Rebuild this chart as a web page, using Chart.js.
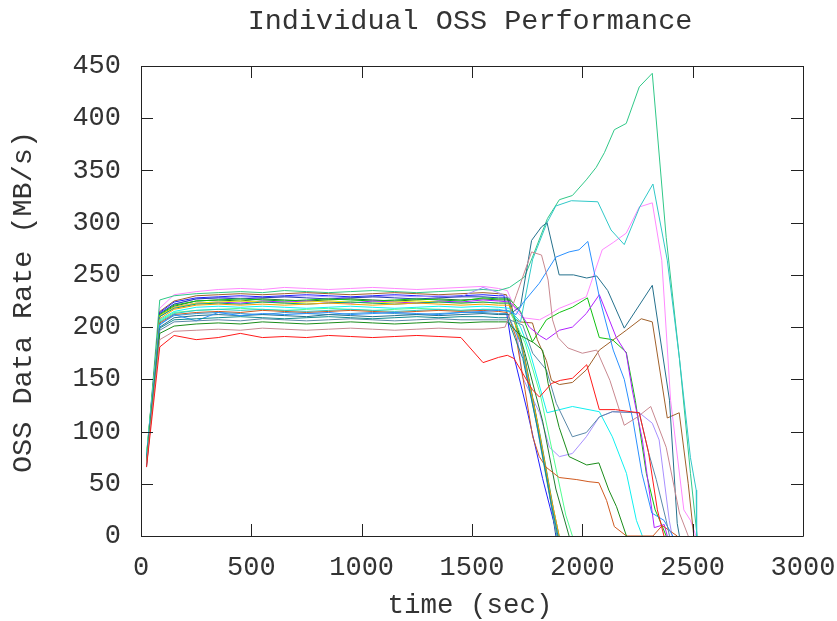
<!DOCTYPE html>
<html><head><meta charset="utf-8">
<script src="https://cdn.jsdelivr.net/npm/chart.js@4/dist/chart.umd.min.js"></script>
<style>html,body{margin:0;padding:0;background:#fff;}canvas{display:block;}</style>
</head><body>
<canvas id="c" width="837" height="621"></canvas>
<script>
// ---- data ----
const xTicks = [0, 500, 1000, 1500, 2000, 2500, 3000];
const yTicks = [0, 50, 100, 150, 200, 250, 300, 350, 400, 450];
// shared plateau sample times (sec)
const PT = [25, 85, 150, 250, 350, 450, 550, 650, 750, 850, 950, 1050, 1150, 1250, 1350, 1450, 1550, 1620];

const redV      = [66,181,192,188,190,194,190,191,190,192,191,190,191,192,191,190,166,171];
const redT      = [[1660,173],[1690,170],[1774,140],[1806,133],[1860,146],[1900,149],[1955,151],[2020,164],[2077,121],[2150,121],[2220,119],[2258,118],[2300,80],[2340,25],[2370,0]];
const rosyV     = [70,188,196,197,198,197,199,198,197,198,199,198,197,198,199,198,198,199];
const rosyT     = [[1650,200],[1700,230],[1770,272],[1815,269],[1845,245],[1865,207],[1890,190],[1935,180],[2000,175],[2065,178],[2125,149],[2190,106],[2250,114],[2310,124],[2380,85],[2440,22],[2480,0]];
const forestV   = [72,194,201,203,204,203,205,204,203,204,205,204,203,204,205,204,205,205];
const forestT   = [[1660,205],[1720,192],[1780,185],[1820,178],[1845,146],[1895,104],[1940,76],[2020,68],[2075,70],[2120,44],[2155,28],[2200,0]];
const steelV    = [68,197,205,206,207,206,208,207,206,207,208,207,206,207,208,207,207,207];
const steelT    = [[1670,207],[1730,202],[1775,175],[1837,159],[1882,127],[1955,95],[2018,99],[2077,114],[2136,119],[2258,118],[2300,80],[2335,54],[2380,15],[2395,0]];
const dcyanV    = [70,199,207,208,209,210,209,208,209,210,209,208,209,210,209,210,210,209];
const dcyanT    = [[1660,209],[1730,170],[1800,100],[1860,30],[1890,0]];
const dodgerV   = [74,202,212,206,214,211,213,212,213,214,212,213,214,213,212,214,215,216];
const dodgerT   = [[1660,216],[1700,212],[1730,223],[1805,242],[1880,267],[1940,272],[1985,274],[2025,282],[2080,226],[2140,178],[2190,150],[2230,110],[2270,60],[2315,22],[2370,15],[2410,0]];
const dtealV    = [66,200,209,211,212,211,212,211,210,212,211,210,211,212,211,212,213,212];
const dtealT    = [[1670,212],[1720,220],[1770,283],[1815,296],[1840,300],[1895,250],[1960,250],[2020,247],[2065,249],[2115,235],[2190,199],[2317,240],[2395,130],[2430,12],[2440,0]];
const skyV      = [72,203,211,213,214,213,212,214,213,212,213,214,213,212,213,214,214,213];
const skyT      = [[1660,213],[1720,185],[1790,110],[1850,40],[1885,0]];
const chocV     = [70,204,212,214,215,214,216,215,214,215,216,215,214,215,216,215,216,215];
const chocT     = [[1660,214],[1700,190],[1740,140],[1775,95],[1805,76],[1835,66],[1895,56],[1975,54],[2030,52],[2075,51],[2110,34],[2145,9],[2200,0],[2320,0],[2362,10],[2430,0]];
const turqV     = [74,205,213,216,217,216,217,216,215,216,217,216,215,216,217,216,217,217];
const turqT     = [[1680,214],[1720,205],[1775,265],[1840,300],[1880,316],[1950,321],[2070,320],[2130,293],[2190,279],[2260,315],[2320,337],[2385,264],[2440,170],[2490,75],[2516,44],[2518,0]];
const springV   = [76,206,214,216,217,218,217,216,217,218,217,216,217,218,217,216,217,216];
const springT   = [[1670,216],[1740,185],[1810,135],[1870,75],[1925,20],[1955,0]];
const cyanV     = [78,207,215,219,220,219,220,219,218,219,220,219,218,219,220,219,220,219];
const cyanT     = [[1670,218],[1720,200],[1760,178],[1840,118],[1955,124],[2077,119],[2136,95],[2200,60],[2245,15],[2272,0]];
const orangeV   = [72,208,217,221,222,221,222,221,222,223,222,221,222,223,222,221,222,221];
const orangeT   = [[1670,221],[1730,178],[1800,105],[1860,35],[1895,0]];
const tgreenV   = [74,210,218,222,223,222,224,223,222,223,224,223,222,223,224,223,224,223];
const tgreenT   = [[1670,223],[1740,170],[1810,95],[1870,25],[1895,0]];
const yellowV   = [76,211,219,223,224,225,224,223,224,225,224,223,224,225,224,223,224,223];
const yellowT   = [[1670,223],[1729,178],[1795,110],[1855,35],[1885,0]];
const magentaV  = [72,210,219,223,224,223,225,224,225,224,223,225,224,223,225,224,226,225];
const magentaT  = [[1670,224],[1715,215],[1760,200],[1806,192],[1837,188],[1896,197],[1955,200],[2018,213],[2077,231],[2154,190],[2199,175],[2226,140],[2272,92],[2317,22],[2326,8],[2371,11],[2385,0]];
const greenV    = [78,212,221,225,226,227,226,225,226,227,226,225,226,227,226,225,228,227];
const greenT    = [[1670,227],[1720,215],[1774,186],[1837,207],[1896,214],[1955,219],[2023,228],[2077,190],[2136,188],[2199,176],[2240,130],[2290,60],[2330,25],[2357,12],[2380,0]];
const oliveV    = [70,211,220,225,226,225,227,226,225,226,227,226,225,226,227,226,227,226];
const oliveT    = [[1670,226],[1740,175],[1820,110],[1880,45],[1940,0]];
const navyV     = [72,213,222,227,228,227,228,229,228,227,228,229,228,227,228,229,229,228];
const navyT     = [[1660,228],[1720,190],[1785,120],[1845,50],[1880,0]];
const lavV      = [74,212,222,227,228,229,228,229,230,229,228,229,230,229,230,229,238,233];
const lavT      = [[1670,228],[1700,200],[1729,152],[1806,118],[1851,85],[1896,76],[1955,79],[2018,95],[2077,114],[2136,119],[2258,118],[2317,108],[2348,92],[2394,15],[2407,0]];
const blueV     = [72,214,224,228,229,230,229,230,231,230,229,230,231,230,229,230,231,230];
const blueT     = [[1645,230],[1683,178],[1750,120],[1820,55],[1887,0]];
const siennaV   = [70,215,225,230,231,232,231,232,233,232,231,232,233,232,231,232,233,232];
const siennaT   = [[1656,231],[1683,210],[1715,205],[1774,204],[1796,188],[1837,168],[1860,149],[1896,145],[1955,147],[2018,159],[2077,178],[2199,197],[2267,208],[2317,205],[2385,113],[2439,118],[2480,50],[2505,0]];
const seaV      = [74,226,230,232,233,234,233,235,234,233,234,235,234,233,234,235,236,235];
const seaT      = [[1670,238],[1738,248],[1774,267],[1842,304],[1896,322],[1955,326],[2018,341],[2063,353],[2100,367],[2145,389],[2199,395],[2258,430],[2317,443],[2380,286],[2440,170],[2490,60],[2520,0]];
const violetV   = [76,218,231,234,236,237,236,238,237,236,237,238,237,236,237,238,239,237];
const violetT   = [[1660,235],[1700,215],[1730,209],[1806,207],[1850,212],[1896,218],[1955,223],[2018,229],[2090,274],[2140,281],[2199,290],[2258,315],[2317,319],[2360,264],[2400,130],[2460,25],[2490,15],[2515,0]];

// ---- build datasets ----
function mk(vals, tail, color) {
  const pts = PT.map((t, i) => ({x: t, y: vals[i]})).concat(tail.map(p => ({x: p[0], y: p[1]})));
  return {data: pts, borderColor: color, borderWidth: 1, pointRadius: 0, tension: 0, fill: false};
}
const datasets = [
  mk(redV, redT, '#ff1a1a'),
  mk(rosyV, rosyT, '#c88890'),
  mk(forestV, forestT, '#1a8c1a'),
  mk(steelV, steelT, '#5a88a8'),
  mk(dcyanV, dcyanT, '#108a90'),
  mk(dodgerV, dodgerT, '#2a90ff'),
  mk(dtealV, dtealT, '#24708c'),
  mk(skyV, skyT, '#3a9ad0'),
  mk(chocV, chocT, '#d05a20'),
  mk(turqV, turqT, '#30c8c8'),
  mk(springV, springT, '#50ff90'),
  mk(cyanV, cyanT, '#10f0f0'),
  mk(orangeV, orangeT, '#ffa000'),
  mk(tgreenV, tgreenT, '#00a080'),
  mk(yellowV, yellowT, '#f0f000'),
  mk(magentaV, magentaT, '#b020ff'),
  mk(greenV, greenT, '#10c010'),
  mk(oliveV, oliveT, '#207a30'),
  mk(navyV, navyT, '#2040b0'),
  mk(lavV, lavT, '#a890ff'),
  mk(blueV, blueT, '#2020ff'),
  mk(siennaV, siennaT, '#a0602a'),
  mk(seaV, seaT, '#30c888'),
  mk(violetV, violetT, '#ff88ff')
];

const FONT = '"Liberation Mono", "DejaVu Sans Mono", monospace';
const TXT = '#333';

const framePlugin = {
  id: 'frame',
  afterDraw(chart) {
    const {ctx, chartArea: a, scales: {x, y}} = chart;
    ctx.save();
    ctx.strokeStyle = '#222';
    ctx.lineWidth = 1;
    ctx.beginPath();
    ctx.rect(Math.round(a.left) + 0.5, Math.round(a.top) + 0.5, Math.round(a.right - a.left), Math.round(a.bottom - a.top));
    ctx.stroke();
    const L = 12;
    ctx.beginPath();
    xTicks.forEach(v => {
      const px = Math.round(x.getPixelForValue(v)) + 0.5;
      ctx.moveTo(px, a.bottom); ctx.lineTo(px, a.bottom - L);
      ctx.moveTo(px, a.top); ctx.lineTo(px, a.top + L);
    });
    yTicks.forEach(v => {
      const py = Math.round(y.getPixelForValue(v)) + 0.5;
      ctx.moveTo(a.left, py); ctx.lineTo(a.left + L, py);
      ctx.moveTo(a.right, py); ctx.lineTo(a.right - L, py);
    });
    ctx.stroke();
    // titles
    ctx.fillStyle = TXT;
    ctx.font = '28.5px ' + FONT;
    ctx.textAlign = 'center';
    ctx.textBaseline = 'middle';
    ctx.fillText('Individual OSS Performance', 470, 21);
    ctx.font = '27.5px ' + FONT;
    ctx.fillText('time (sec)', 470, 606);
    ctx.translate(23, 302);
    ctx.rotate(-Math.PI / 2);
    ctx.font = '28.5px ' + FONT;
    ctx.fillText('OSS Data Rate (MB/s)', 0, 0);
    ctx.restore();
  }
};

new Chart(document.getElementById('c'), {
  type: 'line',
  data: {datasets},
  options: {
    responsive: false,
    animation: false,
    devicePixelRatio: 1,
    layout: {padding: {top: 66, right: 34, bottom: 0, left: 0}},
    plugins: {legend: {display: false}, tooltip: {enabled: false}, title: {display: false}},
    scales: {
      x: {
        type: 'linear', min: 0, max: 3000,
        afterBuildTicks: s => { s.ticks = xTicks.map(v => ({value: v})); },
        afterFit: s => { s.height = 85; s.paddingLeft = 0; s.paddingRight = 0; },
        grid: {display: false, drawTicks: false},
        border: {display: false},
        ticks: {font: {family: FONT, size: 27}, color: TXT, padding: 16, maxRotation: 0, autoSkip: false, callback: v => String(v)}
      },
      y: {
        type: 'linear', min: 0, max: 450,
        afterBuildTicks: s => { s.ticks = yTicks.map(v => ({value: v})); },
        afterFit: s => { s.width = 141; s.paddingTop = 0; s.paddingBottom = 0; },
        grid: {display: false, drawTicks: false},
        border: {display: false},
        ticks: {font: {family: FONT, size: 27}, color: TXT, padding: 20, autoSkip: false, callback: v => String(v)}
      }
    }
  },
  plugins: [framePlugin]
});
</script>
</body></html>
